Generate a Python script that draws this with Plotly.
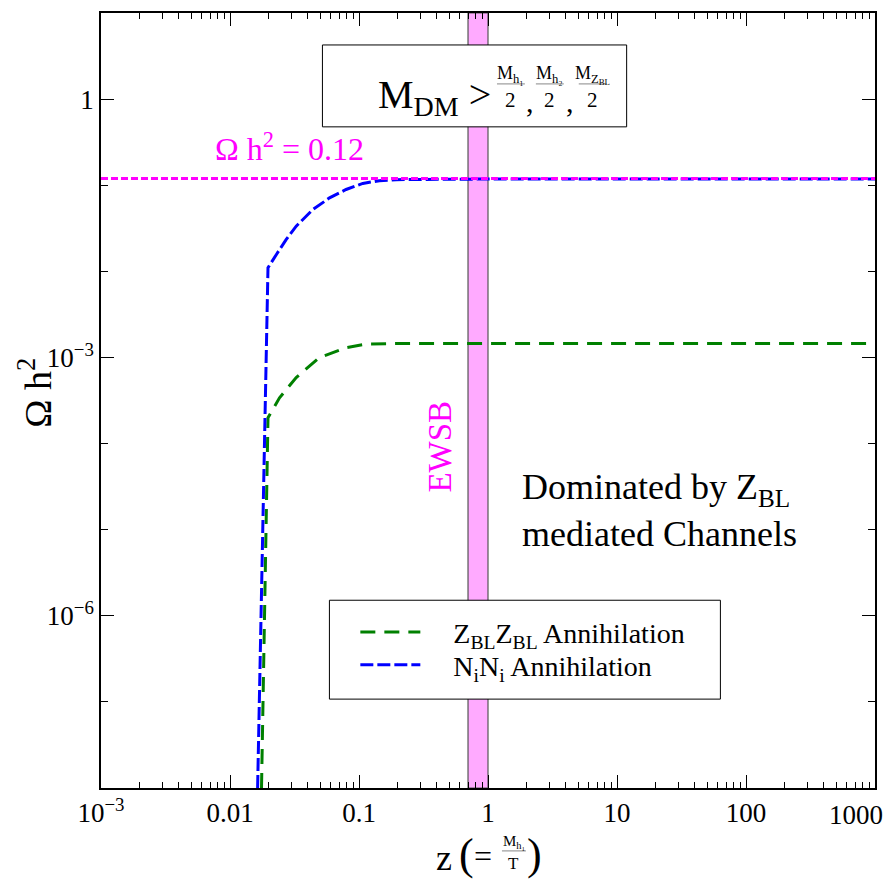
import plotly.graph_objects as go

# ---------------- data ----------------
z_zbl = [0.01755, 0.0197, 0.0242, 0.0326, 0.0494, 0.0794, 0.114, 0.2, 1.0, 10.0, 100.0, 1000.0]
omega_zbl = [1e-8, 2.0e-4, 3.4e-4, 5.85e-4, 9.98e-4, 1.30e-3, 1.43e-3, 1.45e-3, 1.45e-3, 1.45e-3, 1.45e-3, 1.45e-3]

z_nn = [0.01637, 0.0197, 0.0229, 0.0273, 0.0326, 0.0440, 0.0591, 0.0794, 0.107, 0.144, 0.194, 1.0, 10.0, 100.0, 1000.0]
omega_nn = [1e-8, 0.0110, 0.0157, 0.0235, 0.0335, 0.0523, 0.0713, 0.0892, 0.105, 0.113, 0.116, 0.118, 0.118, 0.118, 0.118]

omega_obs = 0.12
z_span = [1e-3, 1e3]
ewsb_band = [0.7, 1.0]
y_span = [1e-8, 10.0]

x_tickvals = [1e-3, 1e-2, 1e-1, 1, 10, 100, 1000]
x_ticktext = ["10<sup>−3</sup>", "0.01", "0.1", "1", "10", "100", ""]
x_last_label = "1000"
y_tickvals = [1e-6, 1e-3, 1]
y_ticktext = ["10<sup>−6</sup>", "10<sup>−3</sup>", "1"]

FONT = "Liberation Serif"
MAGENTA = "#ff00ff"
GREEN = "#008000"
BLUE = "#0000ff"

W, H = 888, 890
L, R, T, B = 101, 11, 12, 102
PW, PH = W - L - R, H - T - B


def px(xp):
    return (xp - L) / PW


def py(yp):
    return (H - B - yp) / PH


fig = go.Figure()

# EWSB band
fig.add_trace(go.Scatter(
    x=[ewsb_band[0], ewsb_band[1], ewsb_band[1], ewsb_band[0], ewsb_band[0]],
    y=[y_span[0], y_span[0], y_span[1], y_span[1], y_span[0]],
    mode="lines", fill="toself", fillcolor="#ffaaff",
    line=dict(color="#555555", width=1.2), showlegend=False, hoverinfo="skip"))

fig.add_trace(go.Scatter(
    x=z_zbl, y=omega_zbl, mode="lines", legend="legend",
    name="\u00a0\u00a0\u00a0\u00a0Z<sub>BL</sub>Z<sub>BL</sub> Annihilation",
    line=dict(color=GREEN, width=3, dash="15px,9px")))

fig.add_trace(go.Scatter(
    x=z_nn, y=omega_nn, mode="lines", legend="legend2",
    name="\u00a0\u00a0\u00a0\u00a0N<sub>i</sub>N<sub>i</sub> Annihilation",
    line=dict(color=BLUE, width=3, dash="13px,4px")))

fig.add_trace(go.Scatter(
    x=z_span, y=[omega_obs, omega_obs], mode="lines",
    line=dict(color=MAGENTA, width=3, dash="7px,3px"),
    showlegend=False, hoverinfo="skip"))

x_minor = [m * 10.0 ** e for e in range(-3, 3) for m in range(2, 10)]
y_minor = [10.0 ** e for e in range(-8, 2)]

axis_common = dict(
    type="log", showline=True, linecolor="black", linewidth=1.5, mirror="ticks",
    ticks="inside", ticklen=13, tickwidth=1.2, tickcolor="black",
    showgrid=False, zeroline=False,
    tickfont=dict(family=FONT, size=27, color="black"),
)

fig.update_xaxes(**axis_common, range=[-3, 3], tickmode="array",
                 tickvals=x_tickvals, ticktext=x_ticktext,
                 minor=dict(tickmode="array", tickvals=x_minor, ticks="inside",
                            ticklen=6, tickwidth=1, tickcolor="black", showgrid=False))
fig.update_yaxes(**axis_common, range=[-8, 1], tickmode="array",
                 tickvals=y_tickvals, ticktext=y_ticktext,
                 minor=dict(tickmode="array", tickvals=y_minor, ticks="inside",
                            ticklen=7, tickwidth=1, tickcolor="black", showgrid=False))

shapes = [
    # M_DM box
    dict(type="rect", xref="paper", yref="paper", x0=px(323), x1=px(628), y0=py(126), y1=py(44),
         line=dict(color="black", width=1), fillcolor="white", layer="above"),
    # legend box
    dict(type="rect", xref="paper", yref="paper", x0=px(330), x1=px(722), y0=py(699), y1=py(600),
         line=dict(color="black", width=1), fillcolor="white", layer="above"),
]

annotations = []


def ann(text, xp, yp, size, color="black", xanchor="center", yanchor="middle", textangle=0):
    annotations.append(dict(text=text, x=px(xp), y=py(yp), xref="paper", yref="paper",
                            showarrow=False, xanchor=xanchor, yanchor=yanchor, textangle=textangle,
                            font=dict(family=FONT, size=size, color=color)))


ann(x_last_label, 858, 815, 27)

ann("Ω h<sup>2</sup> = 0.12", 290, 146, 32, MAGENTA)
ann("EWSB", 441, 446, 33, MAGENTA, textangle=-90)
ann("Dominated by Z<sub>BL</sub>", 521, 489, 36, xanchor="left")
ann("mediated Channels", 521, 534, 36, xanchor="left")

# M_DM > fractions
ann("M<sub>DM</sub> &gt;", 377, 96, 40, xanchor="left")
frac_centers = [512, 551, 594]
frac_nums = ["M<sub>h₁</sub>", "M<sub>h₂</sub>", "M<sub>Z<sub>BL</sub></sub>"]
for xc, num in zip(frac_centers, frac_nums):
    ann(num, xc, 74, 18)
    ann("2", xc, 99, 21)
    shapes.append(dict(type="line", xref="paper", yref="paper", x0=px(xc - 14), x1=px(xc + 14),
                       y0=py(83), y1=py(83), line=dict(color="#888888", width=1), layer="above"))
ann(",", 531, 101, 30)
ann(",", 571, 101, 30)

# axis titles
ann("Ω h<sup>2</sup>", 34, 392, 38, textangle=-90)
ann("z", 445, 858, 36)
ann("(", 467, 855, 44)
ann("=", 484, 856, 32)
ann("M<sub>h₁</sub>", 515, 842, 15)
ann("T", 515, 864, 17)
shapes.append(dict(type="line", xref="paper", yref="paper", x0=px(503), x1=px(527),
                   y0=py(851), y1=py(851), line=dict(color="#888888", width=1)))
ann(")", 536, 855, 44)

leg_common = dict(xanchor="left", yanchor="middle", bgcolor="rgba(0,0,0,0)", borderwidth=0,
                  itemwidth=60, font=dict(family=FONT, size=28, color="black"))

fig.update_layout(
    width=W, height=H,
    margin=dict(l=L, r=R, t=T, b=B),
    paper_bgcolor="white", plot_bgcolor="white",
    font=dict(family=FONT, color="black"),
    shapes=shapes, annotations=annotations,
    legend=dict(x=px(356), y=py(632), **leg_common),
    legend2=dict(x=px(356), y=py(665), **leg_common),
)

fig.write_html("out.html")
